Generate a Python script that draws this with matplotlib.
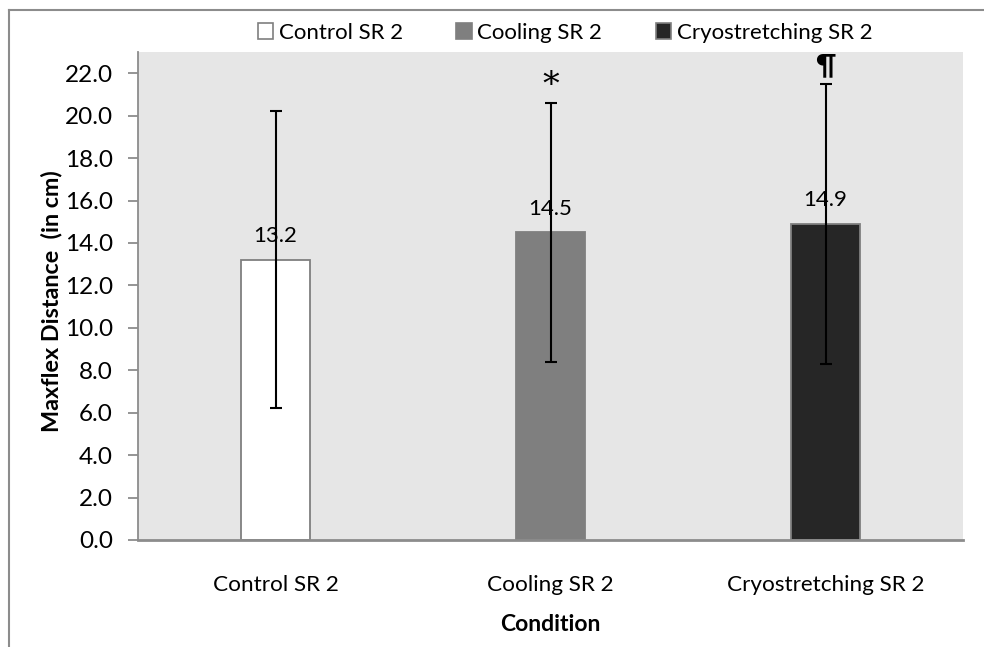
import matplotlib
matplotlib.use("Agg")
import matplotlib.pyplot as plt
from matplotlib.lines import Line2D
from matplotlib.patches import Patch

plt.rcParams.update({"font.family": ["Lato", "DejaVu Sans"], "font.size": 16})

conditions = ["Control SR 2", "Cooling SR 2", "Cryostretching SR 2"]
means = [13.2, 14.5, 14.9]
sds = [7.0, 6.1, 6.6]
marks = ["", "*", "¶"]
mark_y = [None, 21.4, 22.35]
bar_colors = ["#FFFFFF", "#7F7F7F", "#262626"]

W, H = 984, 647
fig = plt.figure(figsize=(W / 100, H / 100), dpi=100)
ax = fig.add_axes([138 / W, 1 - 540 / H, (963 - 138) / W, (540 - 52) / H])
ax.set_facecolor("#E6E6E6")

x = range(len(conditions))
ax.bar(x, means, width=0.25, color=bar_colors, edgecolor="#7F7F7F", linewidth=1.3, zorder=2)
ax.errorbar(x, means, yerr=sds, fmt="none", ecolor="black", elinewidth=1.5,
            capsize=4.5, capthick=1.5, zorder=3)

for i, m in enumerate(means):
    ax.annotate(f"{m:.1f}", (i, m), xytext=(0, 17), textcoords="offset points",
                ha="center", va="center", fontsize=16, zorder=4)
for i, s in enumerate(marks):
    if s == "*":
        ax.text(i, mark_y[i], s, ha="center", va="center", fontsize=24,
                family="DejaVu Serif", clip_on=False, zorder=4)
    elif s:
        ax.text(i, mark_y[i], s, ha="center", va="center", fontsize=20,
                fontweight="bold", clip_on=False, zorder=4)

ax.set_xlim(-0.5, 2.5)
ax.set_ylim(0, 23)
ax.set_yticks([i * 2.0 for i in range(12)])
ax.set_yticklabels([f"{i * 2.0:.1f}" for i in range(12)], fontsize=17.5)
ax.set_xticks(list(x))
ax.set_xticklabels(conditions, fontsize=16.2)
ax.tick_params(axis="x", length=0, pad=25)
ax.tick_params(axis="y", length=7, width=1.3, color="#8C8C8C", direction="out", pad=11)
for side in ("top", "right"):
    ax.spines[side].set_visible(False)
ax.spines["left"].set_color("#8C8C8C")
ax.spines["left"].set_linewidth(1.3)
ax.spines["bottom"].set_color("#8C8C8C")
ax.spines["bottom"].set_linewidth(2)

ax.set_xlabel("Condition", fontweight="bold", fontsize=16.5, labelpad=14)
ax.set_ylabel("Maxflex Distance  (in cm)", fontweight="bold", fontsize=16.8)
ax.yaxis.set_label_coords(-0.092, 0.49)

handles = [Patch(facecolor=c, edgecolor="#7F7F7F", linewidth=1.2) for c in bar_colors]
fig.legend(handles, conditions, loc="center", bbox_to_anchor=(565 / W, 1 - 33 / H),
           ncol=3, frameon=False, handlelength=0.7, handleheight=0.7,
           handletextpad=0.25, columnspacing=2.4, fontsize=16)

# partial chart frame (left and top edges only)
fig.add_artist(Line2D([9 / W, 9 / W], [0, 1 - 10 / H], color="#8C8C8C", lw=1.5,
                      transform=fig.transFigure))
fig.add_artist(Line2D([9 / W, 1], [1 - 10 / H, 1 - 10 / H], color="#8C8C8C", lw=1.5,
                      transform=fig.transFigure))

fig.savefig("out.png", dpi=100, facecolor="white")
